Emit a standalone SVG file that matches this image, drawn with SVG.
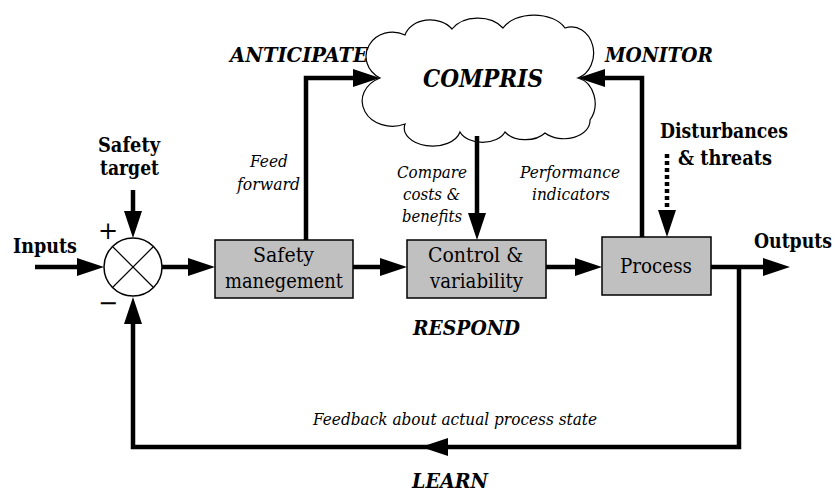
<svg xmlns="http://www.w3.org/2000/svg" width="837" height="492" viewBox="0 0 837 492" font-family="DejaVu Serif">
<style>
text{font-family:"DejaVu Serif";fill:#000}
.b{font-weight:bold;font-size:20px}
.bi{font-weight:bold;font-style:italic;font-size:20px}
.i{font-style:italic;font-size:16px}
.box{fill:#c0c0c0;stroke:#000;stroke-width:1.5}
.bt{font-size:20px}
.w{fill:none;stroke:#000;stroke-width:4.5}
</style>
<defs>
<marker id="ah" markerUnits="userSpaceOnUse" markerWidth="27" markerHeight="18" viewBox="0 0 27 18" refX="3" refY="9" orient="auto">
<path d="M0,0 L27,9 L0,18 Z" fill="#000"/>
</marker>
</defs>
<rect width="837" height="492" fill="#fff"/>

<g id="cloud">
<path d="M380,78 A26 24 0 0 1 405,35 A26 20 0 0 1 452,29 A30 22 0 0 1 503,28 A34 22 0 0 1 565,28 A22 26 0 0 1 578,78 A22 26 0 0 1 590,120 A26 18 0 0 1 545,133 A24 16 0 0 1 505,132 A24 16 0 0 1 460,132 A28 18 0 0 1 405,124 A24 20 0 0 1 380,78 Z" fill="#fff" stroke="#000" stroke-width="1.2"/>
<text x="423" y="87" class="bi" style="font-size:25px" textLength="120" lengthAdjust="spacingAndGlyphs">COMPRIS</text>
</g>

<g id="connectors">
<line class="w" x1="35" y1="267" x2="80" y2="267" marker-end="url(#ah)"/>
<line class="w" x1="133" y1="190" x2="133" y2="214" marker-end="url(#ah)"/>
<line class="w" x1="162" y1="267" x2="191" y2="267" marker-end="url(#ah)"/>
<line class="w" x1="353" y1="267" x2="383" y2="267" marker-end="url(#ah)"/>
<line class="w" x1="546" y1="267" x2="578" y2="267" marker-end="url(#ah)"/>
<line class="w" x1="711" y1="267" x2="766" y2="267" marker-end="url(#ah)"/>
<polyline class="w" points="306,240 306,78 356,78" marker-end="url(#ah)"/>
<polyline class="w" points="642,237 642,78 602,78" marker-end="url(#ah)"/>
<line class="w" x1="477" y1="136" x2="477" y2="216" marker-end="url(#ah)"/>
<line class="w" x1="667" y1="154" x2="667" y2="213" stroke-dasharray="4 3" marker-end="url(#ah)"/>
<polyline class="w" points="739,267 739,447 133,447 133,321" marker-end="url(#ah)"/>
<path d="M421,447 L448,438 L448,456 Z" fill="#000"/>
</g>

<g id="sum">
<circle cx="133" cy="267" r="29" fill="#fff" stroke="#000" stroke-width="1.5"/>
<line x1="112.5" y1="246.5" x2="153.5" y2="287.5" stroke="#000" stroke-width="1.2"/>
<line x1="153.5" y1="246.5" x2="112.5" y2="287.5" stroke="#000" stroke-width="1.2"/>
<text x="108" y="239" style="font-size:24px" text-anchor="middle">+</text>
<text x="108" y="311" style="font-size:24px" text-anchor="middle">−</text>
</g>

<g id="safety">
<rect class="box" x="215" y="240" width="138" height="58"/>
<text class="bt" x="253" y="262" textLength="61" lengthAdjust="spacingAndGlyphs">Safety</text>
<text class="bt" x="225" y="288" textLength="118" lengthAdjust="spacingAndGlyphs">manegement</text>
</g>

<g id="control">
<rect class="box" x="407" y="240" width="139" height="58"/>
<text class="bt" x="428" y="262" textLength="95" lengthAdjust="spacingAndGlyphs">Control &amp;</text>
<text class="bt" x="430" y="288" textLength="93" lengthAdjust="spacingAndGlyphs">variability</text>
</g>

<g id="process">
<rect class="box" x="602" y="237" width="109" height="58"/>
<text class="bt" x="620" y="273" textLength="72" lengthAdjust="spacingAndGlyphs">Process</text>
</g>

<g id="labels">
<text class="b" x="13" y="253" textLength="64" lengthAdjust="spacingAndGlyphs">Inputs</text>
<text class="b" x="98" y="152" textLength="62" lengthAdjust="spacingAndGlyphs">Safety</text>
<text class="b" x="100" y="175" textLength="59" lengthAdjust="spacingAndGlyphs">target</text>
<text class="b" x="754" y="248" textLength="78" lengthAdjust="spacingAndGlyphs">Outputs</text>
<text class="b" x="660" y="138" textLength="128" lengthAdjust="spacingAndGlyphs">Disturbances</text>
<text class="b" x="678" y="165" textLength="94" lengthAdjust="spacingAndGlyphs">&amp; threats</text>
<text class="bi" x="230" y="62" textLength="138" lengthAdjust="spacingAndGlyphs">ANTICIPATE</text>
<text class="bi" x="605" y="62" textLength="108" lengthAdjust="spacingAndGlyphs">MONITOR</text>
<text class="bi" x="413" y="335" textLength="107" lengthAdjust="spacingAndGlyphs">RESPOND</text>
<text class="bi" x="412" y="488" textLength="76" lengthAdjust="spacingAndGlyphs">LEARN</text>
<text class="i" x="250" y="167" textLength="38" lengthAdjust="spacingAndGlyphs">Feed</text>
<text class="i" x="237" y="190" textLength="63" lengthAdjust="spacingAndGlyphs">forward</text>
<text class="i" x="397" y="178" textLength="70" lengthAdjust="spacingAndGlyphs">Compare</text>
<text class="i" x="403" y="200" textLength="57" lengthAdjust="spacingAndGlyphs">costs &amp;</text>
<text class="i" x="402" y="222" textLength="60" lengthAdjust="spacingAndGlyphs">benefits</text>
<text class="i" x="520" y="178" textLength="100" lengthAdjust="spacingAndGlyphs">Performance</text>
<text class="i" x="532" y="200" textLength="78" lengthAdjust="spacingAndGlyphs">indicators</text>
<text class="i" x="313" y="425" textLength="284" lengthAdjust="spacingAndGlyphs">Feedback about actual process state</text>
</g>
</svg>
